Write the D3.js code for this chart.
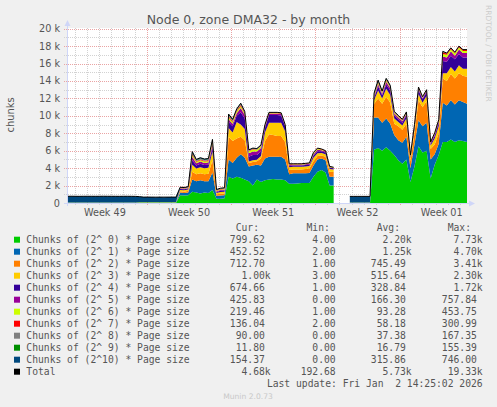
<!DOCTYPE html>
<html>
<head>
<meta charset="utf-8">
<script src="https://cdn.jsdelivr.net/npm/d3@7"></script>
<style>
  html, body { margin: 0; padding: 0; background: #f0f0f0; }
  svg { display: block; }
  .mono { font-family: "DejaVu Sans Mono", monospace; font-size: 9.7px; white-space: pre; fill: #555; }
  .sans { font-family: "DejaVu Sans", sans-serif; fill: #555; }
</style>
</head>
<body>
<svg id="chart" width="497" height="407"></svg>
<script>
// graph window (last update Fri Jan 2 14:25:02 2026), 100 samples over it
const startTime = Date.UTC(2025, 10, 30, 8, 25);
const endTime = Date.UTC(2026, 0, 2, 14, 25);

const seriesKeys = ["o0", "o1", "o2", "o3", "o4", "o5", "o6", "o7", "o8", "o9", "o10"];
const seriesLabels = [
  "Chunks of (2^ 0) * Page size", "Chunks of (2^ 1) * Page size", "Chunks of (2^ 2) * Page size",
  "Chunks of (2^ 3) * Page size", "Chunks of (2^ 4) * Page size", "Chunks of (2^ 5) * Page size",
  "Chunks of (2^ 6) * Page size", "Chunks of (2^ 7) * Page size", "Chunks of (2^ 8) * Page size",
  "Chunks of (2^ 9) * Page size", "Chunks of (2^10) * Page size"
];
const seriesColors = ["#00CC00", "#0066B3", "#FF8000", "#FFCC00", "#330099", "#990099",
  "#CCFF00", "#FF0000", "#808080", "#008F00", "#00487D"];

// values per sample (chunks), null = no data
const order0 = [
  10,10,10,10,10,10,10,10,10,10,
  10,10,10,10,10,10,10,10,30,30,
  30,30,30,30,30,30,30,30,900,850,
  900,1300,1200,1100,1200,1150,1500,500,500,550,
  3000,2800,3000,2900,2700,2500,2000,2700,2400,2600,
  2700,2750,2700,2700,2600,2200,2200,2250,2300,2300,
  2300,3000,3600,3800,3500,2000,2000,null,null,null,
  10,10,10,10,10,10,6100,6300,6000,6400,
  6000,5500,4900,4500,5000,2400,4200,6500,5800,6000,
  2800,4400,5500,7000,7000,7300,7000,7200,7100,7000];
const order1 = [
  10,10,10,10,10,10,10,10,10,10,
  10,10,10,10,10,10,10,10,20,20,
  20,20,20,20,20,20,20,20,300,300,
  300,1400,1300,1500,1300,1350,2000,300,350,350,
  2000,1800,2200,2700,2500,1700,2300,1700,1900,2500,
  2600,2550,2600,2600,2400,1100,1200,1150,1100,1100,
  1150,1300,1400,1300,1400,1000,1000,null,null,null,
  10,10,10,10,10,10,3700,3500,3200,3300,
  3100,2300,2300,2400,2600,1600,2500,3000,3000,3200,
  2200,1200,1300,4500,4200,4500,4300,4600,4500,4400];
const order2 = [
  5,5,5,5,5,5,5,5,5,5,
  5,5,5,5,5,5,5,5,15,15,
  15,15,15,15,15,15,15,15,150,150,
  200,900,800,800,800,850,1400,200,200,200,
  2600,2500,2200,2000,2000,400,400,400,800,2000,
  2600,2500,2400,2400,2000,500,450,450,450,500,
  500,500,400,350,400,600,550,null,null,null,
  5,5,5,5,5,5,1600,2200,2200,2500,
  2400,1300,1600,1500,1500,800,1300,2300,2200,2500,
  1200,1100,1200,2800,2800,3000,3000,3100,3000,3100];
const order3 = [
  5,5,5,5,5,5,5,5,5,5,
  5,5,5,5,5,5,5,5,10,10,
  10,10,10,10,10,10,10,10,150,150,
  150,800,650,700,700,700,1000,150,200,200,
  1000,1000,1900,1400,1300,150,200,150,300,1000,
  1300,1400,1500,1500,1200,300,300,300,300,300,
  300,400,300,300,300,300,300,null,null,null,
  5,5,5,5,5,5,400,900,600,900,
  900,600,500,500,600,350,500,700,500,600,
  400,700,800,600,900,800,800,900,800,900];
const order4 = [
  5,5,5,5,5,5,5,5,5,5,
  5,5,5,5,5,5,5,5,5,5,
  5,5,5,5,5,5,5,5,100,120,
  120,500,350,400,350,350,500,100,150,150,
  700,700,700,1400,1200,550,600,550,500,500,
  900,900,900,850,600,150,150,150,150,150,
  150,250,250,200,200,150,150,null,null,null,
  5,5,5,5,5,5,250,500,350,500,
  500,350,300,300,350,150,250,450,400,400,
  200,300,400,1400,1300,1300,1400,1300,1300,1300];
const order5 = [
  5,5,5,5,5,5,5,5,5,5,
  5,5,5,5,5,5,5,5,5,5,
  5,5,5,5,5,5,5,5,60,60,
  60,400,250,250,250,250,300,100,100,100,
  300,300,300,500,400,400,400,400,400,200,
  150,150,150,150,100,100,100,100,100,100,
  100,150,150,100,100,50,50,null,null,null,
  5,5,5,5,5,5,150,250,200,300,
  300,200,200,200,200,100,100,200,150,200,
  100,200,200,500,500,500,400,500,500,500];
const order6 = [
  5,5,5,5,5,5,5,5,5,5,
  5,5,5,5,5,5,5,5,5,5,
  5,5,5,5,5,5,5,5,40,40,
  50,200,150,150,150,150,200,50,60,60,
  200,200,200,200,150,250,250,200,200,100,
  50,50,50,50,50,50,50,50,50,50,
  50,100,100,100,50,50,50,null,null,null,
  5,5,5,5,5,5,100,150,100,150,
  150,100,100,100,100,50,50,100,100,100,
  50,100,100,300,300,250,250,250,250,250];
const order7 = [
  5,5,5,5,5,5,5,5,5,5,
  5,5,5,5,5,5,5,5,5,5,
  5,5,5,5,5,5,5,5,30,30,
  30,150,100,100,100,100,150,50,50,50,
  150,100,100,150,100,50,50,50,50,50,
  50,50,50,50,50,50,50,50,50,50,
  50,50,50,50,50,50,0,null,null,null,
  5,5,5,5,5,5,100,100,50,100,
  50,50,50,50,50,50,50,50,50,0,
  50,50,50,200,150,100,100,100,100,100];
const order8 = [
  5,5,5,5,5,5,5,5,5,5,
  5,5,5,5,5,5,5,5,5,5,
  5,5,5,5,5,5,5,5,20,20,
  20,100,80,80,80,80,100,30,30,30,
  100,100,100,100,50,50,50,50,50,50,
  50,50,50,50,0,50,0,0,0,0,
  0,50,50,0,0,0,0,null,null,null,
  5,5,5,5,5,5,50,50,50,50,
  50,50,50,50,50,0,50,0,0,0,
  0,0,0,100,50,50,50,50,50,50];
const order9 = [
  5,5,5,5,5,5,5,5,5,5,
  5,5,5,5,5,5,5,5,5,5,
  5,5,5,5,5,5,5,5,10,10,
  10,50,40,40,40,40,50,20,20,20,
  50,50,50,50,50,0,0,0,0,0,
  0,0,0,0,0,0,0,0,0,0,
  0,0,0,0,0,0,0,null,null,null,
  5,5,5,5,5,5,50,50,50,50,
  0,0,0,0,0,0,0,0,0,0,
  0,0,0,0,0,0,0,0,0,0];
const order10 = [
  710,715,710,705,710,712,710,708,710,715,
  712,710,708,705,710,712,706,700,620,570,
  575,570,565,570,568,570,572,570,50,40,
  40,100,80,80,80,80,100,50,40,40,
  100,50,50,50,50,50,50,50,50,0,
  0,0,0,0,0,0,0,0,0,0,
  0,0,0,0,0,0,0,null,null,null,
  700,700,700,700,700,700,100,100,50,50,
  50,50,50,0,0,0,0,0,0,0,
  0,0,0,0,0,0,0,0,0,0];

// legend statistics as printed
const curVals = ["799.62", "452.52", "712.70", "1.00k", "674.66", "425.83", "219.46", "136.04", "90.00", "11.80", "154.37", "4.68k"];
const minVals = ["4.00", "2.00", "1.00", "3.00", "1.00", "0.00", "1.00", "2.00", "0.00", "0.00", "0.00", "192.68"];
const avgVals = ["2.20k", "1.25k", "745.49", "515.64", "328.84", "166.30", "93.28", "58.18", "37.38", "16.79", "315.86", "5.73k"];
const maxVals = ["7.73k", "4.70k", "3.41k", "2.30k", "1.72k", "757.84", "453.75", "300.99", "167.35", "155.39", "746.00", "19.33k"];

const yTicks = [0, 2000, 4000, 6000, 8000, 10000, 12000, 14000, 16000, 18000, 20000];

const seriesData = [order0, order1, order2, order3, order4, order5, order6, order7, order8, order9, order10];

const svg = d3.select("#chart");
const plotLeft = 67, plotRight = 467, plotTop = 28, plotBottom = 203;

const x = d3.scaleUtc().domain([new Date(startTime), new Date(endTime)]).range([plotLeft, plotRight]);
const y = d3.scaleLinear().domain([0, 20000]).range([plotBottom, 28.7]);

svg.append("rect").attr("width", 497).attr("height", 407).attr("fill", "#f0f0f0");
svg.append("rect").attr("x", plotLeft).attr("y", plotTop).attr("width", plotRight - plotLeft)
  .attr("height", plotBottom - plotTop).attr("fill", "#fff");

// grid
const grid = svg.append("g").attr("stroke-width", 1).attr("stroke-dasharray", "1,1");
const minorColor = "#d2d2d2", majorColor = "#eaa4a4";
d3.range(1000, 20001, 1000).forEach(v => {
  const yy = Math.round(y(v)) + 0.5;
  grid.append("line").attr("x1", plotLeft - 3).attr("x2", plotRight).attr("y1", yy).attr("y2", yy)
    .attr("stroke", v % 2000 === 0 ? majorColor : minorColor);
});
const days = d3.utcDay.range(new Date(startTime), new Date(endTime));
days.forEach(d => {
  const xx = Math.round(x(d)) + 0.5;
  grid.append("line").attr("x1", xx).attr("x2", xx).attr("y1", plotTop).attr("y2", plotBottom + 3)
    .attr("stroke", d.getUTCDay() === 0 ? majorColor : minorColor);
});

// stacked areas
const n = order0.length;
const step = (endTime - startTime) / (n - 1);
const rows = d3.range(n).map(i => {
  const r = { t: new Date(startTime + i * step), ok: order0[i] != null };
  seriesKeys.forEach((k, j) => { r[k] = seriesData[j][i]; });
  return r;
});
const stacked = d3.stack().keys(seriesKeys).value((d, k) => d[k] == null ? 0 : d[k])(rows);
const area = d3.area()
  .defined(d => d.data.ok)
  .x(d => x(d.data.t))
  .y0(d => y(d[0]))
  .y1(d => y(d[1]));
svg.append("g").selectAll("path").data(stacked).join("path")
  .attr("d", area)
  .attr("fill", (d, i) => seriesColors[i]);

const total = d3.line()
  .defined(d => d.ok)
  .x(d => x(d.t))
  .y(d => y(d3.sum(seriesKeys, k => d[k])));
svg.append("path").datum(rows).attr("d", total)
  .attr("fill", "none").attr("stroke", "#000").attr("stroke-width", 1);

// axes
const axisColor = "#CFD6F8";
svg.append("line").attr("x1", plotLeft - 3).attr("x2", plotRight + 3)
  .attr("y1", plotBottom + 0.5).attr("y2", plotBottom + 0.5).attr("stroke", axisColor);
svg.append("line").attr("x1", plotLeft + 0.5).attr("x2", plotLeft + 0.5)
  .attr("y1", plotBottom + 3).attr("y2", plotTop - 4).attr("stroke", axisColor);
svg.append("path").attr("d", `M${plotRight + 8},${plotBottom + 0.5} L${plotRight + 2},${plotBottom - 2.5} L${plotRight + 2},${plotBottom + 3.5} Z`).attr("fill", axisColor);
svg.append("path").attr("d", `M${plotLeft + 0.5},${plotTop - 8} L${plotLeft - 2.5},${plotTop - 2} L${plotLeft + 3.5},${plotTop - 2} Z`).attr("fill", axisColor);

// y tick labels
svg.append("g").selectAll("text").data(yTicks).join("text")
  .attr("class", "sans").attr("font-size", 9.7)
  .attr("x", 60).attr("y", d => y(d) + 3.5).attr("text-anchor", "end")
  .text(d => d === 0 ? "0" : (d / 1000) + " k");

// week labels
const weekFmt = d3.utcFormat("%V");
const sundays = d3.utcSunday.range(d3.utcSunday.floor(new Date(startTime)), new Date(endTime));
sundays.forEach(s => {
  const mid = new Date(+s + 3.5 * 86400000);
  if (mid < startTime || mid > endTime) return;
  svg.append("text").attr("class", "sans").attr("font-size", 9.7)
    .attr("x", x(mid)).attr("y", 215.5).attr("text-anchor", "middle")
    .text("Week " + weekFmt(mid));
});

// titles
svg.append("text").attr("class", "sans").attr("font-size", 12.5)
  .attr("x", 248.5).attr("y", 24).attr("text-anchor", "middle")
  .text("Node 0, zone DMA32 - by month");
svg.append("text").attr("class", "sans").attr("font-size", 9.9)
  .attr("transform", "translate(14.3,115) rotate(-90)").attr("text-anchor", "middle")
  .text("chunks");
svg.append("text").attr("font-family", "DejaVu Sans, sans-serif").attr("font-size", 7.5).attr("fill", "#cccccc")
  .attr("transform", "translate(485.6,5) rotate(90)")
  .text("RRDTOOL / TOBI OETIKER");

// legend
const charW = 9.7 * 0.602;
const colRight = [270.7, 341.5, 411.7, 482.7];
const headers = ["Cur:", "Min:", "Avg:", "Max:"];
headers.forEach((h, j) => {
  svg.append("text").attr("class", "mono").attr("x", colRight[j] - 2 * charW).attr("y", 230.8)
    .attr("text-anchor", "end").text(h);
});
const legendNames = seriesLabels.concat(["Total"]);
const legendColors = seriesColors.concat(["#000000"]);
const cols = [curVals, minVals, avgVals, maxVals];
legendNames.forEach((name, i) => {
  const cy = 239.7 + 12 * i;
  svg.append("rect").attr("x", 14).attr("y", cy - 3).attr("width", 6).attr("height", 6).attr("fill", legendColors[i]);
  svg.append("text").attr("class", "mono").attr("x", 26.3).attr("y", cy + 3.5).text(name);
  cols.forEach((vals, j) => {
    const s = vals[i];
    const hasSuffix = /[a-z]$/.test(s);
    svg.append("text").attr("class", "mono")
      .attr("x", hasSuffix ? colRight[j] : colRight[j] - charW).attr("y", cy + 3.5)
      .attr("text-anchor", "end").text(s);
  });
});
svg.append("text").attr("class", "mono").attr("x", 482.7).attr("y", 387.2)
  .attr("text-anchor", "end").text("Last update: Fri Jan  2 14:25:02 2026");
svg.append("text").attr("font-family", "DejaVu Sans, sans-serif").attr("font-size", 7.6).attr("fill", "#c8c8c8")
  .attr("x", 248).attr("y", 399).attr("text-anchor", "middle").text("Munin 2.0.73");
</script>
</body>
</html>
